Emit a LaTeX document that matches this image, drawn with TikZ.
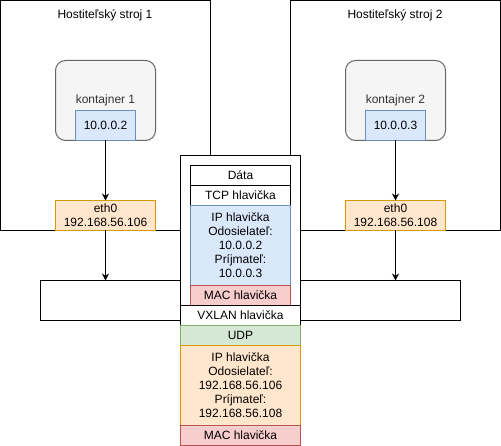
\documentclass[tikz,border=0pt]{standalone}
\usepackage{fontspec}
\setmainfont{Liberation Sans}
\usetikzlibrary{arrows.meta}
\definecolor{blueF}{HTML}{DAE8FC}\definecolor{blueD}{HTML}{6C8EBF}
\definecolor{orF}{HTML}{FFE6CC}\definecolor{orD}{HTML}{D79B00}
\definecolor{redF}{HTML}{F8CECC}\definecolor{redD}{HTML}{B85450}
\definecolor{grnF}{HTML}{D5E8D4}\definecolor{grnD}{HTML}{82B366}
\definecolor{grayF}{HTML}{F5F5F5}\definecolor{grayD}{HTML}{666666}
\definecolor{txtG}{HTML}{333333}
\tikzset{
  box/.style={draw=black, fill=white, line width=1pt, inner sep=0pt, outer sep=0pt, anchor=north west, align=center,
    font=\fontsize{12}{14}\selectfont},
  hostbox/.style={box, minimum width=210pt, minimum height=230pt},
  contbox/.style={box, draw=grayD, fill=grayF, text=txtG, rounded corners=10pt, minimum width=100pt, minimum height=80pt},
  ipbox/.style={box, draw=blueD, fill=blueF, minimum width=60pt, minimum height=30pt},
  ethbox/.style={box, draw=orD, fill=orF, minimum width=100pt, minimum height=30pt},
  pkrow/.style={box, minimum width=100pt, minimum height=20pt},
  pkwide/.style={box, minimum width=120pt, minimum height=20pt},
  lbl/.style={inner sep=0pt, font=\fontsize{12}{14}\selectfont},
  arr/.style={line width=1pt, -{Stealth[length=7pt,width=7pt]}}
}
\begin{document}
\begin{tikzpicture}[x=1pt,y=-1pt]
\useasboundingbox (0,0) rectangle (501,446);
% hosts
\node[hostbox] (h1) at (0.5,0.5) {};
\node[lbl] (h1t) at (105,15) {Hostiteľský stroj 1};
\node[hostbox] (h2) at (290.5,0.5) {};
\node[lbl] (h2t) at (395,15) {Hostiteľský stroj 2};
% containers
\node[contbox] (c1) at (55.5,60.5) {kontajner 1};
\node[ipbox] (ip1) at (75.5,110.5) {10.0.0.2};
\node[contbox] (c2) at (345.5,60.5) {kontajner 2};
\node[ipbox] (ip2) at (365.5,110.5) {10.0.0.3};
% eth0
\node[ethbox] (e1) at (55.5,200.5) {eth0\\192.168.56.106};
\node[ethbox] (e2) at (345.5,200.5) {eth0\\192.168.56.108};
% network
\node[box, minimum width=420pt, minimum height=40pt] (net) at (40.5,280.5) {};
% arrows
\draw[arr] (ip1.south) -- (e1.north);
\draw[arr] (ip2.south) -- (e2.north);
\draw[arr] (e1.south) -- (e1.south |- net.north);
\draw[arr] (e2.south) -- (e2.south |- net.north);
% packet
\node[box, minimum width=120pt, minimum height=150pt] (pk) at (180.5,155.5) {};
\node[pkrow] (data) at (190.5,165.5) {Dáta};
\node[pkrow] (tcp) at (190.5,185.5) {TCP hlavička};
\node[pkrow, draw=blueD, fill=blueF, minimum height=80pt] (ipin) at (190.5,205.5) {IP hlavička\\Odosielateľ:\\10.0.0.2\\Príjmateľ:\\10.0.0.3};
\node[pkrow, draw=redD, fill=redF] (macin) at (190.5,285.5) {MAC hlavička};
\node[pkwide] (vx) at (180.5,305.5) {VXLAN hlavička};
\node[pkwide, draw=grnD, fill=grnF] (udp) at (180.5,325.5) {UDP};
\node[pkwide, draw=orD, fill=orF, minimum height=80pt] (ipout) at (180.5,345.5) {IP hlavička\\Odosielateľ:\\192.168.56.106\\Príjmateľ:\\192.168.56.108};
\node[pkwide, draw=redD, fill=redF] (macout) at (180.5,425.5) {MAC hlavička};
\end{tikzpicture}
\end{document}
